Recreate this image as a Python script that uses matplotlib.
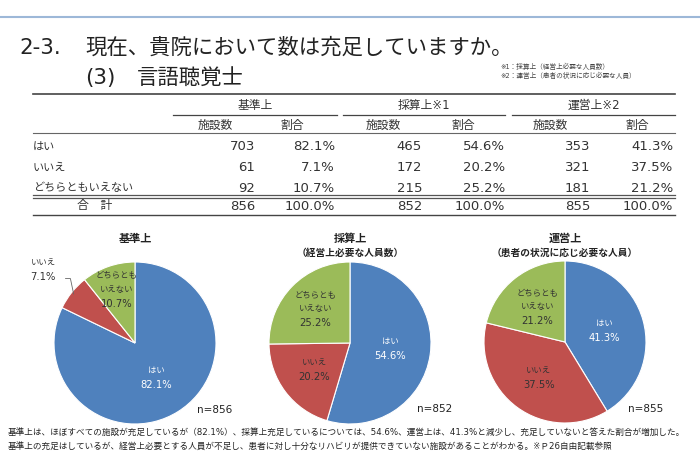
import matplotlib.pyplot as plt
import numpy as np

plt.rcParams['font.family'] = ['DejaVu Sans', 'Noto Sans CJK JP']

# data
categories = ["はい", "いいえ", "どちらともいえない"]
pie_labels = [["はい"], ["いいえ"], ["どちらとも", "いえない"]]
groups = ["基準上", "採算上※1", "運営上※2"]
pie_titles = [["基準上"], ["採算上", "（経営上必要な人員数）"], ["運営上", "（患者の状況に応じ必要な人員）"]]
counts = [[703, 61, 92], [465, 172, 215], [353, 321, 181]]
shares = [[82.1, 7.1, 10.7], [54.6, 20.2, 25.2], [41.3, 37.5, 21.2]]
totals = [856, 852, 855]

colors = ["#4F81BD", "#C0504D", "#9BBB59"]
W, H = 700, 458

fig = plt.figure(figsize=(7, 4.58), dpi=100)
bg = fig.add_axes([0, 0, 1, 1])
bg.set_xlim(0, W)
bg.set_ylim(H, 0)
bg.axis("off")

# top rule and title
bg.plot([0, W], [17, 17], color="#9DB8D8", lw=1.5)
bg.text(19, 48, "2-3.", fontsize=15.4, va="center", ha="left", color="#222222")
bg.text(85, 48, "現在、貴院において数は充足していますか。", fontsize=15.4,
        va="center", ha="left", color="#222222")
bg.text(85, 78, "(3)", fontsize=15.4, va="center", ha="left", color="#222222")
bg.text(137, 78, "言語聴覚士", fontsize=15.4, va="center", ha="left", color="#222222")
bg.text(500, 66, "※1：採算上（経営上必要な人員数）", fontsize=4.8, va="center", color="#444444")
bg.text(500, 75, "※2：運営上（患者の状況に応じ必要な人員）", fontsize=4.8, va="center", color="#444444")

# table
tc = "#333333"
bg.plot([33, 675], [94, 94], color="#444444", lw=1.2)
bg.plot([33, 675], [133, 133], color="#666666", lw=0.8)
bg.plot([33, 675], [195, 195], color="#555555", lw=0.9)
bg.plot([33, 675], [197.5, 197.5], color="#555555", lw=0.9)
bg.plot([33, 675], [215, 215], color="#444444", lw=1.0)

spans = [(173, 337), (343, 505), (512, 675)]
n_right = [255, 422, 590]
p_right = [335, 505, 673]
n_head = [215, 383, 550]
p_head = [292, 463, 637]
for g, (x0, x1) in enumerate(spans):
    bg.plot([x0, x1], [115, 115], color="#444444", lw=0.9)
    bg.text((x0 + x1) / 2, 105, groups[g], fontsize=8.5, ha="center", va="center", color=tc)
    bg.text(n_head[g], 125, "施設数", fontsize=8.5, ha="center", va="center", color=tc)
    bg.text(p_head[g], 125, "割合", fontsize=8.5, ha="center", va="center", color=tc)
    for i in range(3):
        y = 147 + i * 20.5
        bg.text(n_right[g], y, f"{counts[g][i]}", fontsize=9.5, ha="right", va="center", color=tc)
        bg.text(p_right[g], y, f"{shares[g][i]:.1f}%", fontsize=9.5, ha="right", va="center", color=tc)
    bg.text(n_right[g], 206, f"{totals[g]}", fontsize=9.5, ha="right", va="center", color=tc)
    bg.text(p_right[g], 206, "100.0%", fontsize=9.5, ha="right", va="center", color=tc)

for i, c in enumerate(categories):
    bg.text(33, 147 + i * 20.5, c, fontsize=8, ha="left", va="center", color=tc)
bg.text(95, 206, "合　計", fontsize=8.5, ha="center", va="center", color=tc)

# pies
centers = [(135, 343), (350, 343), (565, 342)]
radius = 81
label_dist = [[0.5, 1.45, 0.7], [0.5, 0.55, 0.6], [0.5, 0.55, 0.55]]
n_pos = [(197, 410), (417, 409), (628, 409)]
step = 14.5 / radius

for k, (cx, cy) in enumerate(centers):
    ax = fig.add_axes([(cx - radius) / W, 1 - (cy + radius) / H, 2 * radius / W, 2 * radius / H])
    wedges, _ = ax.pie(shares[k], colors=colors, startangle=90, counterclock=False,
                       wedgeprops=dict(edgecolor="white", linewidth=0.8))
    ax.set_xlim(-1, 1)
    ax.set_ylim(-1, 1)
    ax.set_aspect("equal")
    ax.axis("off")
    for i, w in enumerate(wedges):
        mid = np.deg2rad((w.theta1 + w.theta2) / 2)
        d = label_dist[k][i]
        tx, ty = d * np.cos(mid), d * np.sin(mid)
        col = "white" if i == 0 else "#333333"
        lines = pie_labels[i] + [f"{shares[k][i]:.1f}%"]
        top = ty + (len(lines) - 1) / 2 * step
        for j, s in enumerate(lines):
            fs = 7.2 if j == len(lines) - 1 else 6
            ax.text(tx, top - j * step, s, fontsize=fs, ha="center", va="center", color=col)
        if d > 1:
            ex, ey = 0.97 * np.cos(mid), 0.97 * np.sin(mid)
            yl = ty - step / 2 - 0.02
            ax.plot([ex, ex - 0.04, ex - 0.1], [ey, yl, yl], color="#666666",
                    lw=0.6, clip_on=False)
    bg.text(cx, 239, pie_titles[k][0], fontsize=8, fontweight="bold", ha="center",
            va="center", color="#222222")
    if len(pie_titles[k]) > 1:
        bg.text(cx, 253, pie_titles[k][1], fontsize=7, fontweight="bold", ha="center",
                va="center", color="#222222")
    bg.text(n_pos[k][0], n_pos[k][1], f"n={totals[k]}", fontsize=7.5, ha="left",
            va="center", color="#222222")

# note
bg.text(8, 432, "基準上は、ほぼすべての施設が充足しているが（82.1%）、採算上充足しているについては、"
        "54.6%、運営上は、41.3%と減少し、充足していないと答えた割合が増加した。",
        fontsize=6.2, ha="left", va="center", color="#222222")
bg.text(8, 446, "基準上の充足はしているが、経営上必要とする人員が不足し、患者に対し十分なリハビリが"
        "提供できていない施設があることがわかる。※Ｐ26自由記載参照",
        fontsize=6.2, ha="left", va="center", color="#222222")

fig.savefig("out.png", dpi=100)
